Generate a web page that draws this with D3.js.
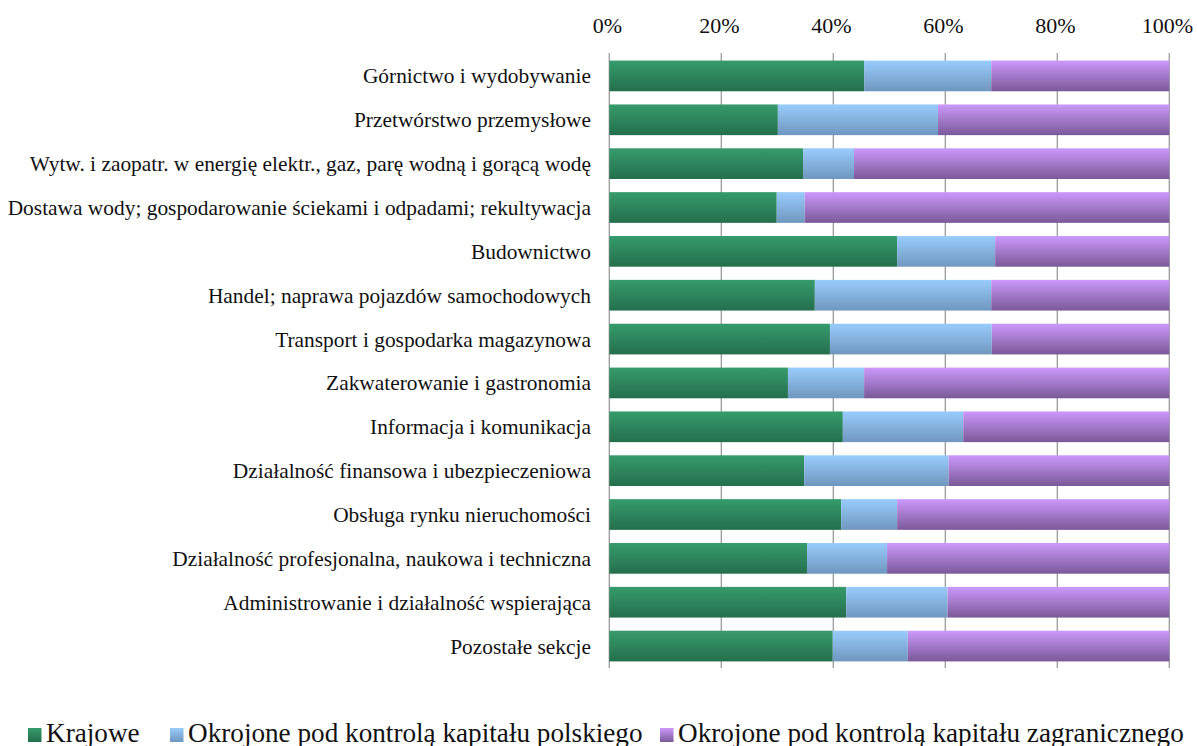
<!DOCTYPE html>
<html>
<head>
<meta charset="utf-8">
<script src="https://cdn.jsdelivr.net/npm/d3@7"></script>
<style>
  body { margin: 0; background: #fff; }
  svg text { font-family: 'Liberation Serif', 'Times New Roman', serif; fill: #111; }
</style>
</head>
<body>
<script>
var categories = [
  'Górnictwo i wydobywanie',
  'Przetwórstwo przemysłowe',
  'Wytw. i zaopatr. w energię elektr., gaz, parę wodną i gorącą wodę',
  'Dostawa wody; gospodarowanie ściekami i odpadami; rekultywacja',
  'Budownictwo',
  'Handel; naprawa pojazdów samochodowych',
  'Transport i gospodarka magazynowa',
  'Zakwaterowanie i gastronomia',
  'Informacja i komunikacja',
  'Działalność finansowa i ubezpieczeniowa',
  'Obsługa rynku nieruchomości',
  'Działalność profesjonalna, naukowa i techniczna',
  'Administrowanie i działalność wspierająca',
  'Pozostałe sekcje'
];
var krajowe     = [45.5, 30.1, 34.6, 29.9, 51.4, 36.7, 39.4, 31.9, 41.7, 34.8, 41.4, 35.3, 42.3, 39.9];
var polskie     = [22.7, 28.6,  9.1,  5.0, 17.5, 31.5, 28.9, 13.6, 21.5, 25.8, 10.0, 14.3, 18.1, 13.4];
var zagraniczne = [31.8, 41.3, 56.3, 65.1, 31.1, 31.8, 31.7, 54.5, 36.8, 39.4, 48.6, 50.4, 39.6, 46.7];
var seriesNames = ['Krajowe', 'Okrojone pod kontrolą kapitału polskiego', 'Okrojone pod kontrolą kapitału zagranicznego'];
var ticks = [0, 20, 40, 60, 80, 100];

var width = 1197, height = 746;
var font = "'Liberation Serif', 'Times New Roman', serif";
var svg = d3.select('body').append('svg')
  .attr('width', width)
  .attr('height', height)
  .attr('font-family', font);

// gradients like excel
var grads = [
  { id: 'g0', top: '#369b6c', bottom: '#246f4c' },
  { id: 'g1', top: '#99ccfc', bottom: '#6f97bf' },
  { id: 'g2', top: '#cc99fc', bottom: '#7a5998' }
];
var defs = svg.append('defs');
grads.forEach(function(g){
  var lg = defs.append('linearGradient')
    .attr('id', g.id)
    .attr('x1', 0).attr('y1', 0).attr('x2', 0).attr('y2', 1);
  lg.append('stop').attr('offset', '0%').attr('stop-color', g.top);
  lg.append('stop').attr('offset', '100%').attr('stop-color', g.bottom);
});

var x = d3.scaleLinear().domain([0, 100]).range([609.3, 1169.3]);
var y = d3.scaleBand().domain(categories).range([54, 668]).paddingInner(0.3).paddingOuter(0.15);

// gridlines
svg.append('g')
  .selectAll('line')
  .data(ticks)
  .enter()
  .append('line')
  .attr('x1', d => x(d)).attr('x2', d => x(d))
  .attr('y1', 53).attr('y2', 668)
  .attr('stroke', '#9a9a9a')
  .attr('stroke-width', 1.3);

// tick labels on top
svg.append('g')
  .selectAll('text')
  .data(ticks)
  .enter()
  .append('text')
  .attr('x', d => x(d) - 2)
  .attr('y', 33)
  .attr('text-anchor', 'middle')
  .style('font-family', font)
  .style('font-size', '22px')
  .text(d => d + '%');

var rows = categories.map(function(c, i){
  return { cat: c, krajowe: krajowe[i], polskie: polskie[i], zagraniczne: zagraniczne[i] };
});
var stack = d3.stack().keys(['krajowe', 'polskie', 'zagraniczne']);
var layers = stack(rows);

svg.append('g')
  .selectAll('g')
  .data(layers)
  .enter()
  .append('g')
  .attr('fill', (d, i) => 'url(#g' + i + ')')
  .selectAll('rect')
  .data(d => d)
  .enter()
  .append('rect')
  .attr('x', d => x(d[0]))
  .attr('y', d => y(d.data.cat))
  .attr('width', d => x(d[1]) - x(d[0]))
  .attr('height', y.bandwidth());

// category labels
svg.append('g')
  .selectAll('text')
  .data(categories)
  .enter()
  .append('text')
  .attr('x', 591)
  .attr('y', d => y(d) + y.bandwidth() / 2)
  .attr('dy', '0.35em')
  .attr('text-anchor', 'end')
  .style('font-family', font)
  .style('font-size', '21.4px')
  .text(d => d);

// legend
var legendX = [28, 170, 660];
var legend = svg.append('g')
  .selectAll('g')
  .data(seriesNames)
  .enter()
  .append('g')
  .attr('transform', (d, i) => 'translate(' + legendX[i] + ',0)');
legend.append('rect')
  .attr('x', 0).attr('y', 728)
  .attr('width', 13.5).attr('height', 14)
  .attr('fill', (d, i) => 'url(#g' + i + ')');
legend.append('text')
  .attr('x', 18).attr('y', 742)
  .style('font-family', font)
  .style('font-size', '27.2px')
  .text(d => d);
</script>
</body>
</html>
